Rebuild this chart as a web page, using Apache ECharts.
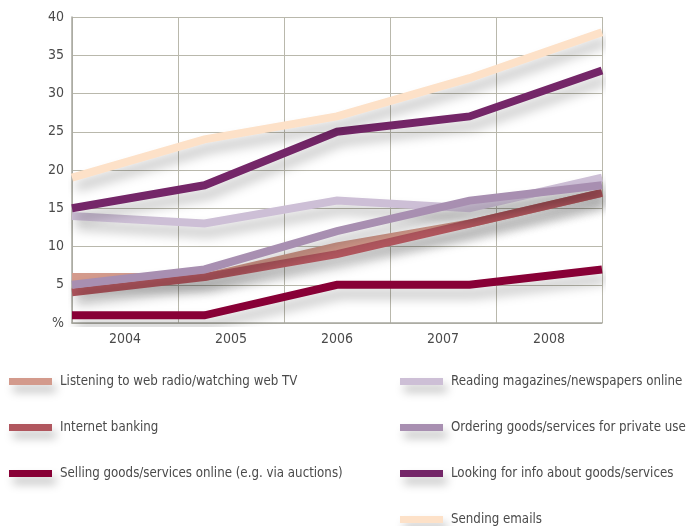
<!DOCTYPE html>
<html>
<head>
<meta charset="utf-8">
<script src="https://cdn.jsdelivr.net/npm/echarts@6/dist/echarts.min.js"></script>
<style>
  html, body { margin: 0; padding: 0; background: #fff; }
  #chart { width: 687px; height: 526px; }
</style>
</head>
<body>
<div id="chart"></div>
<script>
// Years shown on the x axis
const years = ['2004', '2005', '2006', '2007', '2008'];
// Y tick values (0 is labelled with the unit sign)
const yTicks = [0, 5, 10, 15, 20, 25, 30, 35, 40];

// Share of internet users (%) per activity, 2004–2008
const listeningRadioTV = [6, 6, 10, 13, 17];
const internetBanking = [4, 6, 9, 13, 17];
const sellingOnline = [1, 1, 5, 5, 7];
const readingNews = [14, 13, 16, 15, 19];
const orderingGoods = [5, 7, 12, 16, 18];
const lookingForInfo = [15, 18, 25, 27, 33];
const sendingEmails = [19, 24, 27, 32, 38];

const seriesDefs = [
  { name: 'Listening to web radio/watching web TV', data: listeningRadioTV, color: '#d39a8c' },
  { name: 'Internet banking', data: internetBanking, color: '#b0565e' },
  { name: 'Selling goods/services online (e.g. via auctions)', data: sellingOnline, color: '#880036' },
  { name: 'Reading magazines/newspapers online', data: readingNews, color: '#cdbfd6' },
  { name: 'Ordering goods/services for private use', data: orderingGoods, color: '#a88fb1' },
  { name: 'Looking for info about goods/services', data: lookingForInfo, color: '#742668' },
  { name: 'Sending emails', data: sendingEmails, color: '#fde1c8' }
];

const FONT = '"DejaVu Sans Condensed", "Open Sans", sans-serif';
const TEXT = '#4a4a4a';
const GRID = '#b9b8ac';

const legendCommon = {
  orient: 'vertical',
  icon: 'rect',
  itemWidth: 43,
  itemHeight: 7,
  itemGap: 33,
  padding: 0,
  selectedMode: false,
  textStyle: { fontFamily: FONT, fontSize: 13.2, color: TEXT, padding: [0, 0, 0, 3] },
  itemStyle: { shadowColor: 'rgba(0,0,0,0.25)', shadowBlur: 10, shadowOffsetY: 7, shadowOffsetX: 4 }
};

const chart = echarts.init(document.getElementById('chart'));
chart.setOption({
  animation: false,
  grid: { left: 72, right: 85, top: 17, bottom: 203 },
  legend: [
    Object.assign({ left: 9, top: 375, data: seriesDefs.slice(0, 3).map(s => s.name) }, legendCommon),
    Object.assign({ left: 400, top: 375, data: seriesDefs.slice(3).map(s => s.name) }, legendCommon)
  ],
  xAxis: [
    {
      type: 'category',
      data: years,
      boundaryGap: true,
      axisLine: { lineStyle: { color: '#a8a8a0', width: 1.5 } },
      axisTick: { show: false },
      axisLabel: { fontFamily: FONT, fontSize: 14, color: TEXT, margin: 9 },
      splitLine: { show: true, interval: 0, lineStyle: { color: GRID, width: 1 } }
    },
    {
      type: 'category',
      data: years,
      boundaryGap: false,
      show: false
    }
  ],
  yAxis: {
    type: 'value',
    min: 0,
    max: 40,
    interval: 5,
    axisLine: { show: true, lineStyle: { color: '#a8a8a0', width: 1.5 } },
    axisTick: { show: false },
    axisLabel: {
      fontFamily: FONT, fontSize: 14, color: TEXT, margin: 8,
      formatter: v => (yTicks.indexOf(v) === 0 ? '%' : String(v))
    },
    splitLine: { lineStyle: { color: GRID, width: 1 } }
  },
  series: seriesDefs.map(s => ({
    name: s.name,
    type: 'line',
    xAxisIndex: 1,
    data: s.data,
    color: s.color,
    showSymbol: false,
    symbol: 'none',
    lineStyle: {
      width: 8,
      color: s.color,
      cap: 'butt',
      join: 'miter',
      shadowColor: 'rgba(0,0,0,0.26)',
      shadowBlur: 12,
      shadowOffsetY: 9,
      shadowOffsetX: 4
    }
  }))
});
</script>
</body>
</html>
